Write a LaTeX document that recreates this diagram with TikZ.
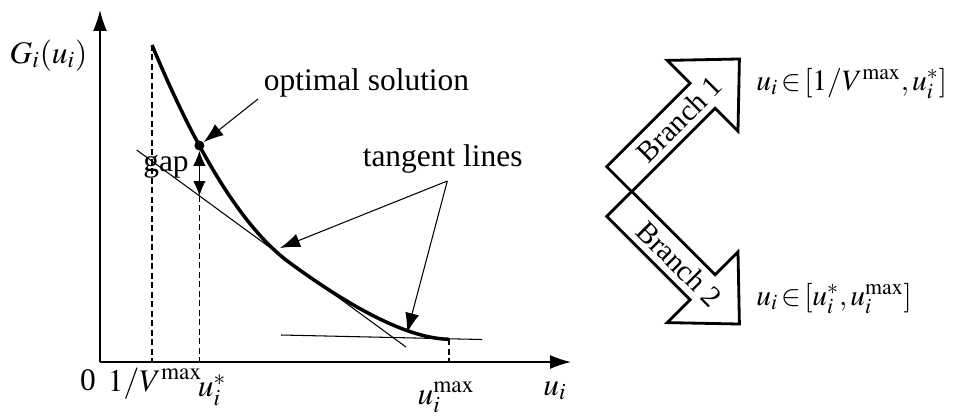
\documentclass[tikz,border=0pt]{standalone}
\usepackage{mathptmx}
\usepackage{fontspec}
\setmainfont{Liberation Serif}
\usepackage{tikz}
\usetikzlibrary{arrows.meta,positioning,calc}
\tikzstyle{axisline}=[-{Latex[length=0.42cm,width=0.28cm]}, line width=0.8pt]
\tikzstyle{costcurve}=[line width=2pt]
\tikzstyle{tangentline}=[line width=0.6pt]
\tikzstyle{guide}=[line width=0.6pt, dash pattern=on 3.4pt off 2pt]
\tikzstyle{pointer}=[-{Latex[length=0.4cm,width=0.28cm]}, line width=0.6pt]
\tikzstyle{gaparrow}=[{Latex[length=0.3cm,width=0.25cm]}-{Latex[length=0.3cm,width=0.25cm]}, line width=0.6pt]
\tikzstyle{optdot}=[circle, fill, inner sep=0pt, minimum size=0.2cm]
\tikzstyle{branchbox}=[line width=1.6pt, line join=miter]
\tikzstyle{lbl}=[inner sep=0pt, font=\fontsize{17.9}{20}\selectfont]
\tikzstyle{rnglbl}=[inner sep=0pt, font=\fontsize{16.8}{19}\selectfont]

\begin{document}
\begin{tikzpicture}[x=0.02cm, y=-0.02cm]
    \useasboundingbox (0,0) rectangle (963,416);

    % --- eixos ---
    \coordinate (O) at (100,362);
    \coordinate (xend) at (571,362);
    \coordinate (yend) at (100,10);
    \draw[axisline] (O) -- (xend);
    \draw[axisline] (O) -- (yend);

    % --- curva G_i(u_i) ---
    \coordinate (start) at (152,45);
    \coordinate (touch) at (290,263);
    \coordinate (stop) at (449,339.3);
    \draw[costcurve] (start) .. controls (198.8,157.3) and (244.8,230) .. (touch)
                             .. controls (358.5,313.1) and (411.5,338.5) .. (stop);

    % tangentes
    \coordinate (t1a) at (136.7,150);
    \coordinate (t1b) at (406,347);
    \coordinate (t2a) at (281,335);
    \coordinate (t2b) at (482,339.5);
    \draw[tangentline] (t1a) -- (t1b);
    \draw[tangentline] (t2a) -- (t2b);

    % solucao otima e gap
    \node[optdot] (opt) at (199.4,145.5) {};
    \coordinate (gapfoot) at (199.4,196);
    \draw[gaparrow] (opt) -- (gapfoot);

    % linhas tracejadas
    \draw[guide] (start) -- (start |- O);
    \draw[guide] (gapfoot) -- (gapfoot |- O);
    \draw[guide] (stop) -- (stop |- O);

    % --- rotulos ---
    \node[lbl, anchor=base] (glbl) at (48.5,63) {$G_i(u_i)$};
    \node[lbl, anchor=base] (optlbl) at (366.5,90) {optimal solution};
    \node[lbl, anchor=base] (tanlbl) at (442.7,166.7) {tangent lines};
    \node[lbl, anchor=base] (gaplbl) at (166,171.7) {gap};
    \node[lbl, anchor=base] (zero) at (88,390) {0};
    \node[lbl, anchor=base] (vlbl) at (155,391) {$1/V^{\max}$};
    \node[lbl, anchor=base] (ustar) at (212,396.7) {$u_i^*$};
    \node[lbl, anchor=base] (umax) at (446,404) {$u_i^{\max}$};
    \node[lbl, anchor=base] (ulbl) at (555,395) {$u_i$};

    % setas dos rotulos
    \coordinate (optfrom) at (258,99);
    \coordinate (tanfrom) at (447.3,181);
    \coordinate (tan1) at (280,248);
    \coordinate (tan2) at (407,333);
    \draw[pointer] (optfrom) -- (opt);
    \draw[pointer] (tanfrom) -- (tan1);
    \draw[pointer] (tanfrom) -- (tan2);

    % --- ramos ---
    \begin{scope}[shift={(619.2,179.2)}, rotate=45]
      \draw[branchbox] (0,-17.7) -- (118,-17.7) -- (118,-50) -- (170,0)
                       -- (118,50) -- (118,17.7) -- (0,17.7) -- cycle;
      \node[rnglbl, rotate=45] (br1) at (85,0) {Branch 1};
    \end{scope}
    \begin{scope}[shift={(619.2,203.8)}, rotate=-45]
      \draw[branchbox] (0,-17.7) -- (118,-17.7) -- (118,-50) -- (170,0)
                       -- (118,50) -- (118,17.7) -- (0,17.7) -- cycle;
      \node[rnglbl, rotate=-45] (br2) at (85,0) {Branch 2};
    \end{scope}
    \node[rnglbl, anchor=base west] (rng1) at (756,90) {$u_i\,{\in}\,[1/V^{\max},u_i^*]$};
    \node[rnglbl, anchor=base west] (rng2) at (756,305) {$u_i\,{\in}\,[u_i^*,u_i^{\max}]$};
\end{tikzpicture}
\end{document}
